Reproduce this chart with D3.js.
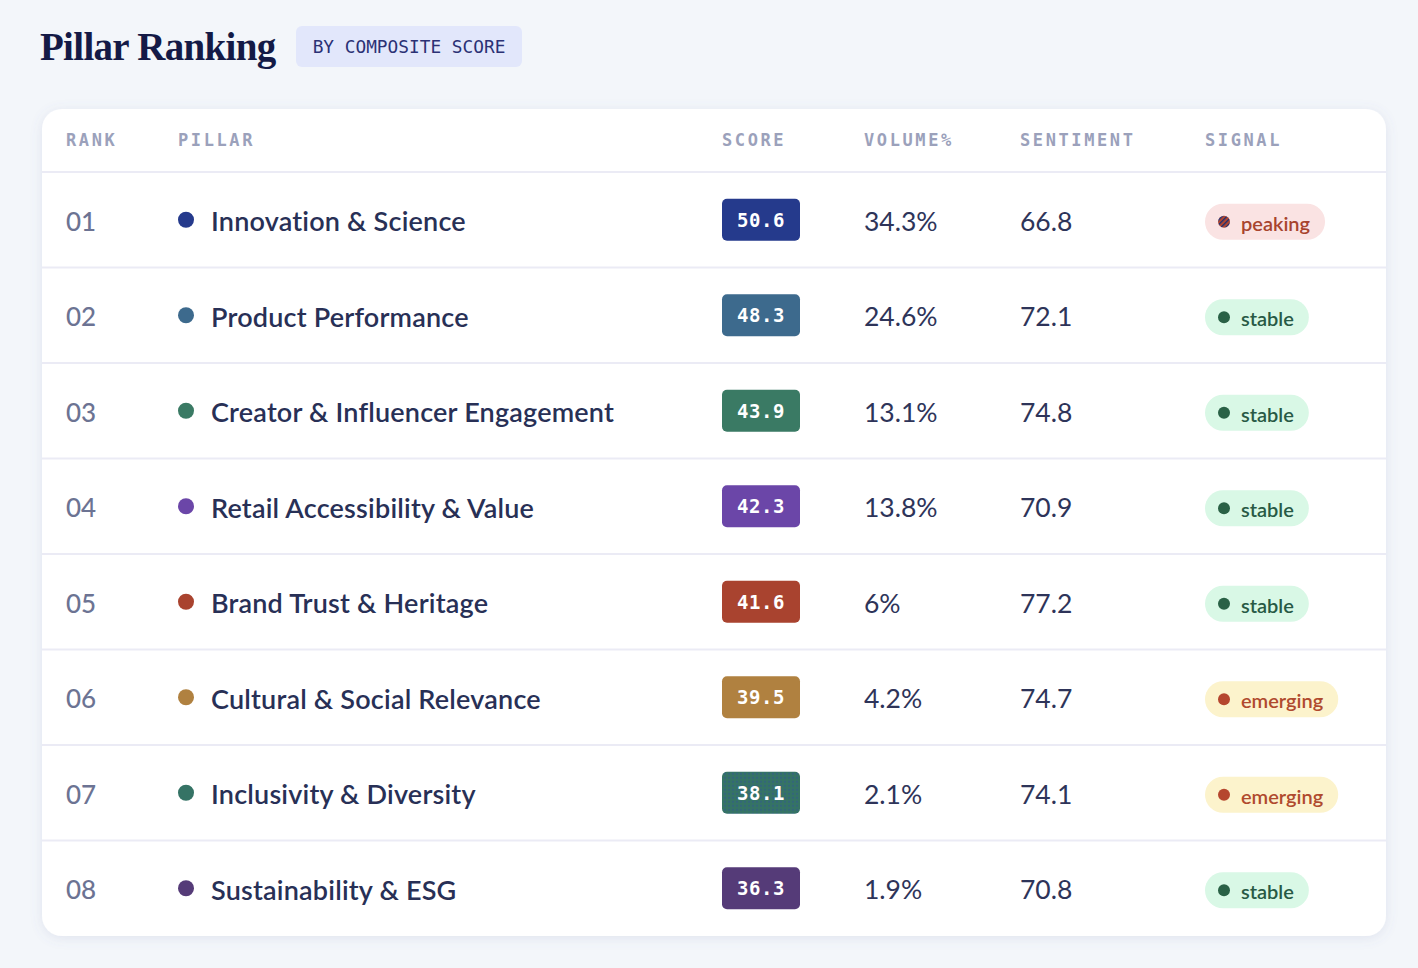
<!DOCTYPE html>
<html>
<head>
<meta charset="utf-8">
<script src="https://cdn.jsdelivr.net/npm/d3@7"></script>
<style>
  html, body { margin: 0; padding: 0; background: #f3f6fa; }
  svg { display: block; }
</style>
</head>
<body>
<div id="chart"></div>
<script>
// table data
var ranks = ['01', '02', '03', '04', '05', '06', '07', '08'];
var pillars = ['Innovation & Science', 'Product Performance', 'Creator & Influencer Engagement',
  'Retail Accessibility & Value', 'Brand Trust & Heritage', 'Cultural & Social Relevance',
  'Inclusivity & Diversity', 'Sustainability & ESG'];
var scores = [50.6, 48.3, 43.9, 42.3, 41.6, 39.5, 38.1, 36.3];
var volumes = ['34.3%', '24.6%', '13.1%', '13.8%', '6%', '4.2%', '2.1%', '1.9%'];
var sentiments = ['66.8', '72.1', '74.8', '70.9', '77.2', '74.7', '74.1', '70.8'];
var signals = ['peaking', 'stable', 'stable', 'stable', 'stable', 'emerging', 'emerging', 'stable'];
var pillarColors = ['#253a8c', '#3d6a8d', '#3a7a64', '#6b46a8', '#a9432f', '#b08140', '#357365', '#553b78'];
var headers = ['RANK', 'PILLAR', 'SCORE', 'VOLUME%', 'SENTIMENT', 'SIGNAL'];

var signalStyle = {
  peaking:  { bg: '#fae3e3', fg: '#a8442e', dot: '#a8442e' },
  stable:   { bg: '#d9f8e6', fg: '#285a45', dot: '#2a6146' },
  emerging: { bg: '#fcf3cc', fg: '#b04a2e', dot: '#b5462e' }
};

var W = 1418, H = 968;
var card = { x: 42, y: 109, w: 1344, h: 827, r: 20 };
var headH = 63;
var colX = { rank: 66, dot: 186, pillar: 211, score: 722, volume: 864, sentiment: 1020, signal: 1205 };
var headerX = [colX.rank, 178, colX.score, colX.volume, colX.sentiment, colX.signal];

var sans = "'Lato', 'Inter', sans-serif";
var mono = "'DejaVu Sans Mono', 'Liberation Mono', monospace";

var svg = d3.select('#chart').append('svg').attr('width', W).attr('height', H);

var defs = svg.append('defs');
var shadow = defs.append('filter').attr('id', 'shadow')
  .attr('x', '-5%').attr('y', '-5%').attr('width', '110%').attr('height', '110%');
shadow.append('feDropShadow').attr('dx', 0).attr('dy', 2).attr('stdDeviation', 6)
  .attr('flood-color', '#6670a8').attr('flood-opacity', 0.14);

// dotted texture for row 07 badge, hatch for the peaking dot
var dots = defs.append('pattern').attr('id', 'dots').attr('patternUnits', 'userSpaceOnUse')
  .attr('width', 4).attr('height', 4);
dots.append('rect').attr('width', 4).attr('height', 4).attr('fill', '#357365');
dots.append('circle').attr('cx', 1).attr('cy', 1).attr('r', 0.7).attr('fill', '#2f4fa0');
var hatch = defs.append('pattern').attr('id', 'hatch').attr('patternUnits', 'userSpaceOnUse')
  .attr('width', 3.5).attr('height', 3.5).attr('patternTransform', 'rotate(45)');
hatch.append('rect').attr('width', 3.5).attr('height', 3.5).attr('fill', '#b5462e');
hatch.append('rect').attr('width', 1.4).attr('height', 3.5).attr('fill', '#24306e');

svg.append('rect').attr('width', W).attr('height', H).attr('fill', '#f3f6fa');

// title + tag
svg.append('text').attr('x', 40).attr('y', 60)
  .attr('font-family', "'Liberation Serif', 'DejaVu Serif', serif")
  .attr('font-weight', 700).attr('font-size', 39).attr('fill', '#141a46')
  .attr('letter-spacing', -0.7)
  .text('Pillar Ranking');
svg.append('rect').attr('x', 296).attr('y', 26).attr('width', 226).attr('height', 41).attr('rx', 6)
  .attr('fill', '#e2e7fb');
svg.append('text').attr('x', 409).attr('y', 46).attr('text-anchor', 'middle')
  .attr('dominant-baseline', 'central')
  .attr('font-family', mono).attr('font-size', 17.8).attr('fill', '#2b3175')
  .text('BY COMPOSITE SCORE');

// card
svg.append('rect').attr('x', card.x).attr('y', card.y).attr('width', card.w).attr('height', card.h)
  .attr('rx', card.r).attr('fill', '#fff').attr('filter', 'url(#shadow)');

var g = svg.append('g');

g.selectAll('text.head').data(headers).join('text')
  .attr('class', 'head')
  .attr('x', function(d, i) { return headerX[i]; })
  .attr('y', card.y + 31)
  .attr('dominant-baseline', 'central')
  .attr('font-family', mono).attr('font-weight', 700).attr('font-size', 17)
  .attr('letter-spacing', 2.6).attr('fill', '#9ba1bb')
  .text(function(d) { return d; });

var y = d3.scaleBand().domain(ranks)
  .range([card.y + headH, card.y + card.h]);

// separators
g.selectAll('line.sep').data(ranks).join('line')
  .attr('class', 'sep')
  .attr('x1', card.x).attr('x2', card.x + card.w)
  .attr('y1', function(d) { return y(d); }).attr('y2', function(d) { return y(d); })
  .attr('stroke', '#ebebf5').attr('stroke-width', 2);

var rows = g.selectAll('g.row').data(ranks).join('g')
  .attr('class', 'row')
  .attr('transform', function(d) { return 'translate(0,' + (y(d) + y.bandwidth() / 2) + ')'; });

rows.append('text').attr('x', colX.rank).attr('y', 1).attr('dominant-baseline', 'central')
  .attr('font-family', sans).attr('font-weight', 500).attr('font-size', 26).attr('fill', '#6c7393')
  .text(function(d) { return d; });

rows.append('circle').attr('cx', colX.dot).attr('cy', 0).attr('r', 8)
  .attr('fill', function(d, i) { return pillarColors[i]; });

rows.append('text').attr('x', colX.pillar).attr('y', 1).attr('dominant-baseline', 'central')
  .attr('font-family', sans).attr('font-weight', 600).attr('font-size', 27).attr('fill', '#283056')
  .attr('letter-spacing', 0.2)
  .text(function(d, i) { return pillars[i]; });

rows.append('rect').attr('x', colX.score).attr('y', -21).attr('width', 78).attr('height', 42).attr('rx', 5)
  .attr('fill', function(d, i) { return i === 6 ? 'url(#dots)' : pillarColors[i]; });
rows.append('text').attr('x', colX.score + 39).attr('y', 0).attr('text-anchor', 'middle')
  .attr('dominant-baseline', 'central')
  .attr('font-family', mono).attr('font-weight', 700).attr('font-size', 19).attr('fill', '#fff')
  .attr('letter-spacing', 0.5)
  .text(function(d, i) { return scores[i].toFixed(1); });

rows.append('text').attr('x', colX.volume).attr('y', 1).attr('dominant-baseline', 'central')
  .attr('font-family', sans).attr('font-weight', 400).attr('font-size', 26.5).attr('fill', '#2e3459')
  .text(function(d, i) { return volumes[i]; });

rows.append('text').attr('x', colX.sentiment).attr('y', 1).attr('dominant-baseline', 'central')
  .attr('font-family', sans).attr('font-weight', 400).attr('font-size', 26.5).attr('fill', '#2e3459')
  .text(function(d, i) { return sentiments[i]; });

// signal pills, sized to their label
rows.each(function(d, i) {
  var row = d3.select(this);
  var st = signalStyle[signals[i]];
  var pill = row.append('rect').attr('x', colX.signal).attr('y', -16).attr('height', 36).attr('rx', 18)
    .attr('fill', st.bg);
  row.append('circle').attr('cx', colX.signal + 19).attr('cy', 2).attr('r', 6)
    .attr('fill', signals[i] === 'peaking' ? 'url(#hatch)' : st.dot);
  var label = row.append('text').attr('x', colX.signal + 36).attr('y', 3).attr('dominant-baseline', 'central')
    .attr('font-family', sans).attr('font-weight', 600).attr('font-size', 20).attr('fill', st.fg)
    .text(signals[i]);
  var w = label.node().getComputedTextLength();
  pill.attr('width', 36 + w + 15);
});
</script>
</body>
</html>
